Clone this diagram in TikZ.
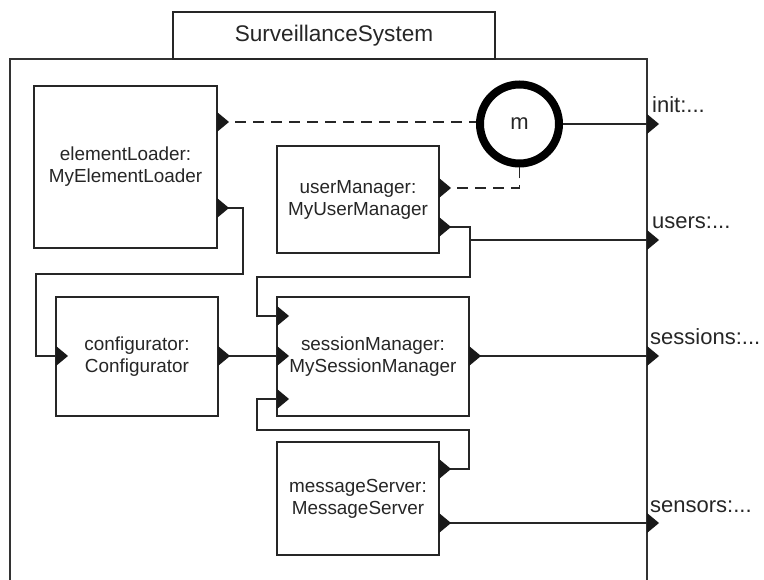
\documentclass[tikz,border=0pt]{standalone}
\usepackage{fontspec}
\setmainfont{Liberation Sans}
\begin{document}
\begin{tikzpicture}[x=1pt,y=-1pt,
  comp/.style={draw=black!85, line width=1.4pt, fill=white, align=center,
    inner sep=0pt, text=black!85, font=\fontsize{18.9}{22}\selectfont},
  frame/.style={draw=black!80, line width=1.6pt},
  wire/.style={draw=black!85, line width=1.3pt},
  dashwire/.style={wire, dash pattern=on 11pt off 7pt},
  lbl/.style={anchor=base west, inner sep=0pt, text=black!85,
    font=\fontsize{22}{26}\selectfont},
  pics/portmark/.style={code={\fill[black!90] (0,-10) -- (12,0) -- (0,10) -- cycle;}}
]
\useasboundingbox (0,0) rectangle (764,580);

% enclosing structured class
\draw[frame] (10,580) -- (10,59) -- (647,59) -- (647,580);
\node[comp, font=\fontsize{22.6}{26}\selectfont, minimum width=322, minimum height=47]
  (title) at (334,35.5) {SurveillanceSystem};

% parts
\node[comp, minimum width=183, minimum height=162] (el) at (125.5,167)
  {elementLoader:\\MyElementLoader};
\node[comp, minimum width=162, minimum height=107] (um) at (358,199.5)
  {userManager:\\MyUserManager};
\node[comp, minimum width=162, minimum height=119] (cf) at (137,356.5)
  {configurator:\\Configurator};
\node[comp, minimum width=192, minimum height=119] (sm) at (373,356.5)
  {sessionManager:\\MySessionManager};
\node[comp, minimum width=162, minimum height=113] (ms) at (358,498.5)
  {messageServer:\\MessageServer};

% state machine
\node[circle, draw=black, line width=8pt, minimum size=79, inner sep=0pt,
  text=black!85, font=\fontsize{22}{26}\selectfont] (m) at (519.5,124) {m};

% ports on the parts
\coordinate (elP1) at (217,122);
\coordinate (elP2) at (217,208);
\coordinate (umP1) at (439,188);
\coordinate (umP2) at (439,227);
\coordinate (cfL)  at (56,356);
\coordinate (cfR)  at (218,356);
\coordinate (smL1) at (277,316);
\coordinate (smL2) at (277,356);
\coordinate (smL3) at (277,399);
\coordinate (smR)  at (469,356);
\coordinate (msP1) at (439,469);
\coordinate (msP2) at (439,523);

% ports on the enclosing class
\coordinate (initP)     at (647,124);
\coordinate (usersP)    at (647,240);
\coordinate (sessionsP) at (647,356);
\coordinate (sensorsP)  at (647,523);

% bend points
\coordinate (b1) at (243,274);
\coordinate (b2) at (36,274);
\coordinate (u1) at (470,277);
\coordinate (u2) at (257,277);
\coordinate (v1) at (469,430);
\coordinate (v2) at (257,430);

% connectors
\draw[dashwire] (elP1) -- (m.west |- elP1);
\draw[dashwire] (umP1) -| (m.south);
\draw[wire] (m.east) -- (initP);
\draw[wire] (elP2) -| (b1) -- (b2) |- (cfL);
\draw[wire] (cfR) -- (smL2);
\draw[wire] (smR) -- (sessionsP);
\draw[wire] (umP2) -| (u1) -- (u2) |- (smL1);
\draw[wire] (usersP -| u1) -- (usersP);
\draw[wire] (msP1) -| (v1) -- (v2) |- (smL3);
\draw[wire] (msP2) -- (sensorsP);

% port markers
\foreach \p in {elP1,elP2,umP1,umP2,cfL,cfR,smL1,smL2,smL3,smR,msP1,msP2,
                initP,usersP,sessionsP,sensorsP}
  \path (\p) pic {portmark};

% port labels
\node[lbl] (initL)     at (652,113) {init:...};
\node[lbl] (usersL)    at (652,229) {users:...};
\node[lbl] (sessionsL) at (650,345) {sessions:...};
\node[lbl] (sensorsL)  at (650,512) {sensors:...};
\end{tikzpicture}
\end{document}
